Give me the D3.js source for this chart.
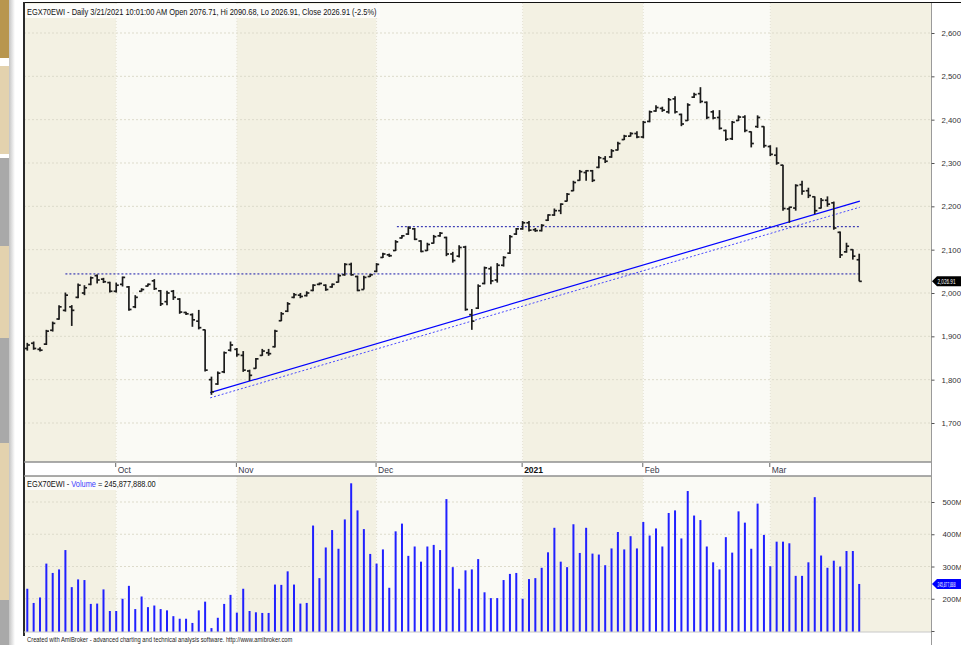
<!DOCTYPE html>
<html>
<head>
<meta charset="utf-8">
<script src="https://cdn.jsdelivr.net/npm/d3@7"></script>
<style>
body{margin:0;background:#fff;}
svg{display:block;font-family:"Liberation Sans",Arial,sans-serif;}
</style>
</head>
<body>
<script>
// daily bars, 132 sessions (mid Sep 2020 -> 21 Mar 2021)
const open = [1872,1884,1870,1882,1914,1940,1960,1968,1990,2000,
  2020,2040,2032,2024,2004,2020,2014,1968,2004,2016,
  2028,2005,1980,2004,1986,1955,1950,1935,1915,1800,
  1790,1818,1868,1870,1856,1820,1826,1856,1862,1876,
  1936,1958,1990,1995,1994,2006,2020,2018,2014,2025,
  2042,2066,2038,2008,2038,2050,2082,2088,2098,2127,
  2136,2148,2120,2098,2115,2132,2128,2090,2085,2106,
  1950,1965,2022,2056,2030,2064,2092,2136,2148,2162,
  2146,2144,2168,2180,2190,2212,2236,2260,2278,2282,
  2290,2310,2314,2330,2354,2362,2368,2360,2396,2420,
  2426,2418,2448,2412,2398,2452,2460,2440,2418,2405,
  2375,2356,2398,2406,2372,2384,2384,2338,2318,2295,
  2194,2196,2250,2236,2222,2196,2214,2208,2140,2095,
  2100,2076.71];
const high = [1885,1888,1875,1915,1934,1972,2001,1972,2022,2018,
  2038,2043,2035,2026,2024,2038,2016,1995,2011,2022,
  2032,2007,2005,2007,1988,1957,1953,1961,1916,1807,
  1819,1865,1888,1873,1866,1823,1850,1871,1871,1915,
  1956,1979,2000,2000,2004,2020,2024,2020,2022,2044,
  2069,2070,2040,2040,2044,2069,2093,2091,2122,2134,
  2154,2150,2122,2116,2134,2141,2130,2095,2110,2109,
  1963,2020,2061,2061,2069,2085,2134,2150,2166,2166,
  2150,2159,2182,2195,2207,2231,2259,2284,2284,2284,
  2316,2316,2332,2349,2365,2371,2373,2397,2421,2433,
  2430,2450,2454,2414,2438,2462,2475,2442,2422,2422,
  2377,2397,2410,2410,2373,2410,2385,2341,2336,2296,
  2199,2251,2259,2243,2223,2219,2223,2211,2142,2116,
  2101,2090.68];
const low = [1867,1869,1865,1880,1911,1938,1957,1924,1988,1995,
  2018,2022,2023,2001,2001,2015,1959,1965,2003,2015,
  2007,1970,1972,1984,1952,1949,1922,1916,1819,1765,
  1788,1815,1865,1853,1818,1797,1825,1855,1855,1874,
  1935,1956,1988,1988,1992,2004,2018,2005,2012,2024,
  2040,2040,2004,2008,2037,2048,2081,2083,2097,2126,
  2134,2122,2094,2097,2114,2130,2085,2070,2082,1959,
  1915,1963,2020,2020,2024,2061,2090,2134,2146,2142,
  2141,2142,2166,2178,2182,2211,2235,2259,2259,2256,
  2288,2300,2312,2329,2353,2361,2357,2357,2394,2418,
  2418,2414,2414,2385,2397,2450,2438,2401,2401,2377,
  2351,2353,2397,2371,2336,2381,2335,2316,2296,2190,
  2162,2190,2227,2219,2182,2195,2199,2146,2081,2093,
  2077,2026.91];
const close = [1880,1872,1868,1912,1930,1968,1995,1960,2018,2012,
  2035,2030,2026,2004,2018,2036,1962,1990,2008,2020,
  2010,1975,2000,1990,1956,1952,1938,1920,1822,1772,
  1815,1862,1880,1858,1822,1810,1848,1866,1860,1912,
  1952,1975,1996,1992,2000,2018,2022,2008,2020,2040,
  2066,2042,2006,2036,2042,2066,2090,2086,2118,2132,
  2150,2124,2096,2112,2130,2138,2090,2075,2105,1962,
  1935,2016,2058,2028,2064,2082,2130,2148,2162,2145,
  2144,2156,2180,2190,2205,2228,2255,2280,2282,2260,
  2312,2304,2328,2345,2362,2368,2360,2394,2418,2428,
  2422,2446,2418,2390,2434,2458,2442,2405,2404,2380,
  2355,2394,2406,2375,2345,2405,2340,2320,2300,2195,
  2198,2248,2235,2225,2190,2214,2205,2150,2088,2108,
  2085,2026.91];
// volume in millions
const volume = [231,187,204,309,280,291,351,236,260,258,
  184,185,229,162,162,200,240,168,207,174,
  179,168,164,146,138,138,125,164,191,109,
  141,184,212,157,231,162,158,156,156,244,
  243,285,244,185,187,427,264,359,413,355,
  446,558,474,416,339,309,353,234,409,433,
  333,362,315,362,367,351,509,298,231,288,
  291,323,220,202,202,258,277,280,200,261,
  264,296,344,420,315,298,431,342,420,340,
  337,304,356,407,353,394,356,438,396,418,
  362,466,474,387,534,458,444,362,313,291,
  391,343,471,436,355,495,398,301,377,377,
  372,271,271,313,515,334,296,318,300,348,
  348,245.877888];

const monthLabels = ["Oct","Nov","Dec","2021","Feb","Mar"];
const monthStart = [14,33,55,78,97,117];
const priceTicks = [1700,1800,1900,2000,2100,2200,2300,2400,2500,2600];
const volTicks = [100,200,300,400,500];

// drawn study lines (bar index, price)
const trendIdx = [28.8,131.1];
const trendSolid = [1770,2212];
const trendDotted = [1758,2198];
const levelPrice = [2044,2153];
const levelFrom = [6,58.2];
const levelTo = 131.1;

function main(){
    const W = 961, H = 645;
    const left = 24, right = 931;
    const pTop = 3, pBot = 462, vTop = 476, vBot = 632;

    const svg = d3.select("body").append("svg")
        .attr("width",W)
        .attr("height",H);

    const x = d3.scaleLinear().domain([0,131]).range([27.3,859.2]);
    const y = d3.scaleLinear().domain([1700,2600]).range([423,33]);
    const v = d3.scaleLinear().domain([100,500]).range([631,502]);

    const defs = svg.append("defs");
    defs.append("clipPath").attr("id","pclip").append("rect")
        .attr("x",left).attr("y",pTop).attr("width",right-left).attr("height",pBot-pTop);
    defs.append("clipPath").attr("id","vclip").append("rect")
        .attr("x",left).attr("y",vTop).attr("width",right-left).attr("height",vBot-vTop);
    const grad = defs.append("linearGradient").attr("id","shade");
    grad.append("stop").attr("offset","0").attr("stop-color","#c4c4c4");
    grad.append("stop").attr("offset","1").attr("stop-color","#ffffff");

    // left side strip
    const strip = [[0,58,"#b8964f"],[66,154,"#e3d2ae"],[158,246,"#a9a9a9"],
        [246,338,"#e3d2ae"],[338,443,"#a9a9a9"],[443,600,"#e3d2ae"],[600,645,"#a9a9a9"]];
    svg.selectAll(".strip").data(strip).enter().append("rect")
        .attr("x",0).attr("y",d=>d[0]).attr("width",9).attr("height",d=>d[1]-d[0])
        .attr("fill",d=>d[2]);
    svg.append("rect").attr("x",9).attr("y",0).attr("width",6).attr("height",H)
        .attr("fill","url(#shade)");

    // month bands in both panes
    const edges = [left].concat(monthStart.map(d=>x(d))).concat([right]);
    const bands = d3.range(edges.length-1).map(k=>[edges[k],edges[k+1],k%2===0]);
    [[pTop,pBot],[vTop,vBot]].forEach(p=>{
        svg.selectAll(null).data(bands).enter().append("rect")
            .attr("x",d=>d[0]).attr("y",p[0]).attr("width",d=>d[1]-d[0]).attr("height",p[1]-p[0])
            .attr("fill",d=>d[2] ? "#f3f1e3" : "#fafaf5");
    });

    // grid
    const grid = svg.append("g").attr("stroke","#dddbcb").attr("stroke-dasharray","2,2");
    grid.selectAll(null).data(priceTicks).enter().append("line")
        .attr("x1",left).attr("x2",right).attr("y1",d=>y(d)).attr("y2",d=>y(d));
    grid.selectAll(null).data(volTicks.slice(1)).enter().append("line")
        .attr("x1",left).attr("x2",right).attr("y1",d=>v(d)).attr("y2",d=>v(d));
    [[pTop,pBot],[vTop,vBot]].forEach(p=>{
        grid.selectAll(null).data(monthStart).enter().append("line")
            .attr("x1",d=>x(d)).attr("x2",d=>x(d)).attr("y1",p[0]).attr("y2",p[1])
            .attr("stroke","#e3e1d3").attr("stroke-dasharray","1,2");
    });

    // study lines
    const study = svg.append("g").attr("clip-path","url(#pclip)");
    study.selectAll(null).data(levelPrice).enter().append("line")
        .attr("x1",(d,k)=>x(levelFrom[k])).attr("x2",x(levelTo))
        .attr("y1",d=>y(d)).attr("y2",d=>y(d))
        .attr("stroke","#1515a8").attr("stroke-dasharray","2,2");
    study.append("line")
        .attr("x1",x(trendIdx[0])).attr("x2",x(trendIdx[1]))
        .attr("y1",y(trendSolid[0])).attr("y2",y(trendSolid[1]))
        .attr("stroke","#0000ff").attr("stroke-width",1.2);
    study.append("line")
        .attr("x1",x(trendIdx[0])).attr("x2",x(trendIdx[1]))
        .attr("y1",y(trendDotted[0])).attr("y2",y(trendDotted[1]))
        .attr("stroke","#4a4aff").attr("stroke-dasharray","2,2");

    // OHLC bars
    const bars = svg.append("g").attr("clip-path","url(#pclip)")
        .attr("stroke","#1b1b1b").attr("stroke-width",1.7);
    const idx = d3.range(close.length);
    bars.selectAll(null).data(idx).enter().append("line")
        .attr("x1",i=>x(i)).attr("x2",i=>x(i))
        .attr("y1",i=>y(high[i])).attr("y2",i=>y(low[i]));
    bars.selectAll(null).data(idx).enter().append("line")
        .attr("x1",i=>x(i)-2.6).attr("x2",i=>x(i))
        .attr("y1",i=>y(open[i])).attr("y2",i=>y(open[i]));
    bars.selectAll(null).data(idx).enter().append("line")
        .attr("x1",i=>x(i)).attr("x2",i=>x(i)+2.6)
        .attr("y1",i=>y(close[i])).attr("y2",i=>y(close[i]));

    // volume bars
    svg.append("g").attr("clip-path","url(#vclip)")
        .selectAll(null).data(idx).enter().append("line")
        .attr("x1",i=>x(i)).attr("x2",i=>x(i))
        .attr("y1",i=>v(volume[i])).attr("y2",vBot)
        .attr("stroke","#2020ff").attr("stroke-width",2);

    // frames
    svg.append("rect").attr("x",right).attr("y",pTop).attr("width",W-right).attr("height",H-pTop).attr("fill","#fff");
    svg.append("rect").attr("x",left).attr("y",pBot).attr("width",right-left).attr("height",vTop-pBot).attr("fill","#fff");
    svg.append("rect").attr("x",left).attr("y",vBot).attr("width",right-left).attr("height",H-vBot).attr("fill","#fff");
    svg.append("line").attr("x1",left).attr("x2",W).attr("y1",2.5).attr("y2",2.5).attr("stroke","#111");
    svg.append("line").attr("x1",left).attr("x2",left).attr("y1",2).attr("y2",636)
        .attr("stroke","#2a2a2a").attr("stroke-width",2);
    svg.append("line").attr("x1",right+0.5).attr("x2",right+0.5).attr("y1",pTop).attr("y2",H)
        .attr("stroke","#9a9a9a");
    [pBot,vTop].forEach(yy=>{
        svg.append("line").attr("x1",left).attr("x2",right).attr("y1",yy).attr("y2",yy)
            .attr("stroke","#8f8f8f").attr("stroke-width",1.5);
    });
    svg.append("line").attr("x1",left).attr("x2",right).attr("y1",vBot).attr("y2",vBot)
        .attr("stroke","#c8c8c8");

    // date axis
    const dates = svg.append("g");
    dates.selectAll(null).data(monthStart).enter().append("line")
        .attr("x1",d=>x(d)-0.5).attr("x2",d=>x(d)-0.5).attr("y1",pBot+1).attr("y2",pBot+5)
        .attr("stroke","#666");
    dates.selectAll(null).data(monthLabels).enter().append("text")
        .attr("x",(d,k)=>x(monthStart[k])+1.5).attr("y",472.5)
        .attr("font-size","8.5px")
        .attr("font-weight",d=>d==="2021" ? "bold" : "normal")
        .attr("fill",d=>d==="2021" ? "#111" : "#3a3a4a")
        .text(d=>d);

    // price axis
    const pa = svg.append("g").attr("transform",`translate(${right+0.5},0)`)
        .call(d3.axisRight(y).tickValues(priceTicks).tickFormat(d3.format(","))
            .tickSizeInner(3).tickSizeOuter(0).tickPadding(7));
    pa.select(".domain").remove();
    pa.selectAll("line").attr("stroke","#555");
    pa.selectAll("text").attr("font-size","7.8px").attr("fill","#333")
        .attr("font-family","'Liberation Sans',Arial,sans-serif");

    // volume axis
    const va = svg.append("g").attr("transform",`translate(${right+0.5},0)`)
        .call(d3.axisRight(v).tickValues(volTicks).tickFormat(d=>d===100 ? "" : d+"M")
            .tickSizeInner(3).tickSizeOuter(0).tickPadding(8));
    va.select(".domain").remove();
    va.selectAll("line").attr("stroke","#555");
    va.selectAll("text").attr("font-size","7.8px").attr("fill","#333")
        .attr("font-family","'Liberation Sans',Arial,sans-serif");

    // squeeze a text horizontally so it fits a given width
    function fit(sel, x0, y0, w){
        const natural = sel.node().getComputedTextLength();
        const k = Math.min(1, w/natural);
        sel.attr("transform",`translate(${x0},${y0}) scale(${k},1)`);
    }

    // last value markers
    const cy = y(close[close.length-1]);
    svg.append("path")
        .attr("d",`M${right+1},${cy} L${right+6},${cy-5} L${W},${cy-5} L${W},${cy+5} L${right+6},${cy+5} Z`)
        .attr("fill","#000");
    const ct = svg.append("text")
        .attr("font-size","7.5px").attr("fill","#fff")
        .text(d3.format(",.2f")(close[close.length-1]));
    fit(ct, right+6.5, cy+2.8, 18);
    const vy = v(volume[volume.length-1]);
    svg.append("path")
        .attr("d",`M${right+1},${vy} L${right+6},${vy-5} L${W},${vy-5} L${W},${vy+5} L${right+6},${vy+5} Z`)
        .attr("fill","#0000ff");
    const vl = svg.append("text")
        .attr("font-size","7.5px").attr("fill","#fff")
        .text(d3.format(",")(Math.round(volume[volume.length-1]*1e6)));
    fit(vl, right+6.5, vy+2.8, 18);

    // titles
    svg.append("rect").attr("x",left+1).attr("y",4).attr("width",355).attr("height",14).attr("fill","#fcfcfa");
    const tt = svg.append("text")
        .attr("font-size","9px").attr("fill","#111")
        .text("EGX70EWI - Daily 3/21/2021 10:01:00 AM Open 2076.71, Hi 2090.68, Lo 2026.91, Close 2026.91 (-2.5%)");
    fit(tt, 27, 14.5, 350);

    svg.append("rect").attr("x",left+1).attr("y",vTop+1).attr("width",133).attr("height",13).attr("fill","#fcfcfa");
    const vt = svg.append("text")
        .attr("font-size","9px").attr("fill","#111");
    vt.append("tspan").text("EGX70EWI - ");
    vt.append("tspan").attr("fill","#3b3bff").text("Volume");
    vt.append("tspan").text(" = 245,877,888.00");
    fit(vt, 27, 487, 129);

    const ft = svg.append("text")
        .attr("font-size","6.5px").attr("fill","#222")
        .text("Created with AmiBroker - advanced charting and technical analysis software. http://www.amibroker.com");
    fit(ft, 27, 642, 266);
}
main();
</script>
</body>
</html>
